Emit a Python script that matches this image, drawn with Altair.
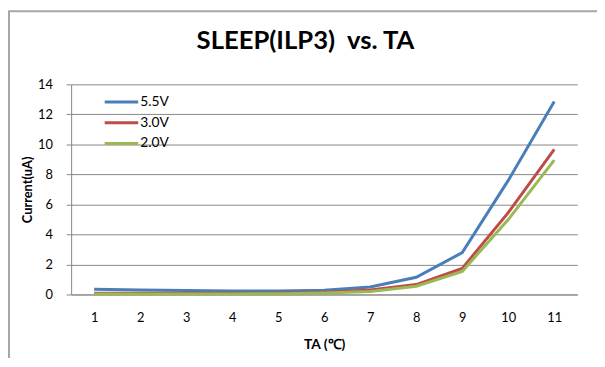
import altair as alt
import pandas as pd

ta = [1, 2, 3, 4, 5, 6, 7, 8, 9, 10, 11]
series = ["5.5V", "3.0V", "2.0V"]
v55 = [0.35, 0.30, 0.27, 0.24, 0.24, 0.28, 0.50, 1.15, 2.79, 7.6, 12.85]
v30 = [0.08, 0.08, 0.08, 0.08, 0.10, 0.15, 0.30, 0.66, 1.74, 5.45, 9.67]
v20 = [0.03, 0.03, 0.03, 0.04, 0.05, 0.10, 0.20, 0.55, 1.54, 4.99, 8.95]
colors = ["#4A7EBB", "#BE4B48", "#98B954"]
title_text = ["SLEEP(ILP3)\u00a0 vs. TA"]

rows = []
for name, vals in zip(series, [v55, v30, v20]):
    for t, v in zip(ta, vals):
        rows.append({"TA": t, "Current": v, "series": name})
df = pd.DataFrame(rows)
legend_df = pd.DataFrame({"series": series})
title_df = pd.DataFrame({"title": title_text})

color = alt.Color("series:N", scale=alt.Scale(domain=series, range=colors), legend=None)

lines = alt.Chart(df).mark_line(strokeWidth=3).encode(
    x=alt.X("TA:O", title="TA (℃)",
            scale=alt.Scale(type="point", padding=0.5),
            axis=alt.Axis(labelAngle=0, ticks=False, labelPadding=17, titlePadding=14,
                          domainColor="#868686", labelFontSize=13, titleFontSize=14,
                          labelFont="Lato", titleFont="Lato", labelColor="#000", titleColor="#000")),
    y=alt.Y("Current:Q", title="Current(uA)",
            scale=alt.Scale(domain=[0, 14], nice=False),
            axis=alt.Axis(values=[0, 2, 4, 6, 8, 10, 12, 14], tickSize=5, tickColor="#868686",
                          domainColor="#868686", gridColor="#868686", labelPadding=14,
                          labelFontSize=13, titleFontSize=13, labelFont="Lato", titleFont="Lato",
                          labelColor="#000", titleColor="#000", titlePadding=3)),
    color=color,
    order=alt.Order("TA:O"),
)

ly = alt.Y("series:N", scale=alt.Scale(type="point", domain=series, range=[18, 60], padding=0), axis=None)
leg_rules = alt.Chart(legend_df).mark_rule(strokeWidth=3).encode(
    x=alt.value(34), x2=alt.value(68), y=ly, color=color)
leg_text = alt.Chart(legend_df).mark_text(align="left", baseline="middle", fontSize=14,
                                          font="Lato", color="#000").encode(
    x=alt.value(70), y=ly, text="series:N")

title = alt.Chart(title_df).mark_text(align="center", baseline="alphabetic", fontSize=26,
                                      font="Lato", fontWeight="bold",
                                      color="#000").encode(
    x=alt.value(237.5), y=alt.value(-36), text="title:N")

frame = alt.Chart(title_df).mark_rect(fillOpacity=0, stroke="#a6a6a6", strokeWidth=2).encode(
    x=alt.value(-63), x2=alt.value(560), y=alt.value(-74), y2=alt.value(320))

chart = alt.layer(frame, lines, leg_rules, leg_text, title).resolve_scale(y="independent").properties(
    width=513, height=213,
    autosize=alt.AutoSizeParams(type="none"),
    padding={"left": 64, "top": 75, "right": 20, "bottom": 62},
).configure_view(stroke=None)

chart.save("out.html", embed_options={"renderer": "svg", "actions": False})
